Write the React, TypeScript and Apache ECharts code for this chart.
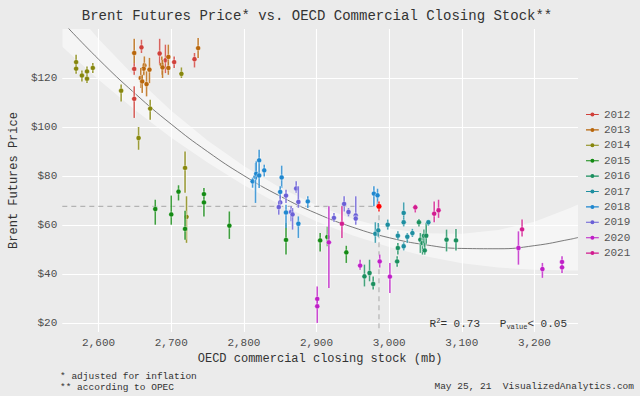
import React, { useEffect, useRef } from "react";
import * as echarts from "echarts";

// ---------- data ----------
const years = ["2012", "2013", "2014", "2015", "2016", "2017", "2018", "2019", "2020", "2021"];
const yearColors = ["#d0403a", "#b8660b", "#86860c", "#138a13", "#1a8f5e", "#1e8ea0", "#1f87cf", "#6a5fd6", "#bf1fc7", "#d21b8f"];

// [stock (mb), price ($), low, high]
const pts2012 = [
  [2649, 123.7, 121.3, 126.1], [2649, 111.5, 103.7, 116.6], [2659, 132.5, 130.2, 135.6],
  [2684, 130.0, 125.4, 136.0], [2692, 127.2, 122.0, 133.6], [2704, 126.5, 124.1, 128.8],
  [2732, 127.7, 124.3, 130.2],
];
const pts2013 = [
  [2649, 130.2, 126.1, 136.0], [2663, 125.1, 121.3, 128.8], [2662, 123.8, 121.0, 126.0],
  [2658, 120.0, 115.9, 124.1], [2660, 118.6, 113.9, 121.3], [2666, 117.5, 112.5, 122.7],
  [2670, 123.4, 117.9, 128.2], [2687, 125.4, 121.3, 128.8], [2688, 124.3, 120.0, 127.4],
  [2696, 128.6, 122.7, 133.6], [2696, 124.1, 121.3, 126.8], [2737, 132.2, 128.2, 136.3],
];
const pts2014 = [
  [2569, 126.5, 124.1, 129.5], [2569, 123.8, 121.7, 125.0], [2577, 121.0, 118.6, 123.1],
  [2584, 122.7, 121.3, 124.7], [2584, 119.7, 118.0, 121.3], [2592, 124.1, 122.0, 126.1],
  [2631, 114.8, 110.4, 117.3], [2671, 107.5, 103.0, 111.1], [2655, 95.5, 90.7, 100.0],
  [2714, 121.7, 120.0, 124.3], [2719, 83.3, 73.1, 90.0], [2721, 63.3, 52.7, 71.7],
];
const pts2015 = [
  [2678, 66.5, 60.1, 70.3], [2700, 64.3, 60.1, 72.0], [2710, 73.6, 70.0, 76.2],
  [2719, 58.4, 54.0, 65.8], [2745, 72.6, 71.0, 75.1], [2745, 69.2, 63.5, 71.0],
  [2780, 59.7, 54.3, 65.5], [2858, 53.9, 47.9, 60.8], [2905, 53.7, 49.2, 56.7],
  [2915, 55.1, 51.3, 59.3], [2941, 48.8, 44.5, 51.5],
];
const pts2016 = [
  [2966, 39.0, 34.9, 43.8], [2973, 40.4, 37.0, 45.8], [2978, 35.9, 33.6, 39.0],
  [3011, 45.1, 42.9, 47.2], [3012, 50.6, 47.9, 52.6], [3041, 61.1, 59.4, 62.4],
  [3043, 54.0, 48.6, 56.7], [3046, 52.6, 47.9, 55.3], [3048, 55.6, 51.3, 58.1],
  [3051, 55.6, 52.0, 60.8], [3049, 49.6, 47.9, 52.6], [3079, 54.0, 49.2, 58.1],
  [3092, 53.7, 49.6, 58.4],
];
const pts2017 = [
  [2981, 56.4, 52.7, 61.1], [2985, 57.8, 55.2, 60.8], [2998, 60.1, 58.1, 62.2],
  [3012, 55.6, 54.0, 57.4], [3020, 64.9, 62.9, 69.2], [3020, 61.1, 59.4, 62.9],
  [3020, 51.3, 49.6, 52.9], [3025, 55.2, 52.7, 56.7], [3032, 56.7, 55.1, 58.4],
  [3054, 61.1, 59.7, 61.9],
];
const pts2018 = [
  [2979, 72.8, 67.6, 75.8], [2984, 72.1, 68.3, 74.8], [2812, 77.8, 75.2, 79.3],
  [2816, 79.6, 69.0, 85.3], [2817, 80.9, 78.5, 86.0], [2821, 86.4, 81.2, 90.7],
  [2821, 80.2, 75.1, 81.2], [2828, 82.3, 79.8, 84.6], [2852, 79.4, 75.1, 84.2],
  [2850, 73.5, 71.0, 75.8], [2858, 65.1, 58.8, 68.3], [2875, 60.5, 54.7, 63.5],
  [2888, 69.6, 66.9, 71.7],
];
const pts2019 = [
  [2850, 69.2, 66.6, 72.0], [2848, 67.3, 64.2, 69.6], [2858, 72.0, 69.0, 74.4],
  [2872, 74.9, 73.1, 77.8], [2875, 69.4, 67.0, 75.8], [2865, 65.3, 61.5, 67.6],
  [2867, 64.3, 58.1, 66.9], [2924, 62.9, 61.3, 64.9], [2938, 68.6, 65.5, 71.7],
  [2944, 65.3, 63.5, 66.9], [2954, 63.9, 62.2, 71.7], [2954, 62.6, 60.1, 63.9],
];
const pts2020 = [
  [2901, 29.8, 27.0, 34.9], [2901, 26.8, 20.0, 29.0], [2917, 52.9, 34.3, 67.6],
  [2960, 43.4, 41.7, 45.8], [2987, 45.1, 42.6, 47.9], [3001, 38.9, 32.2, 44.5],
  [3178, 50.6, 43.8, 57.4], [3211, 42.0, 38.4, 44.5], [3238, 44.9, 43.8, 47.2],
  [3238, 42.7, 40.4, 43.8],
];
const pts2021 = [
  [2935, 60.5, 54.7, 67.6], [3036, 67.2, 65.1, 68.3], [3062, 64.6, 61.1, 69.6],
  [3068, 66.0, 62.9, 70.3], [3183, 58.2, 55.3, 62.2],
];
const pointsByYear = [pts2012, pts2013, pts2014, pts2015, pts2016, pts2017, pts2018, pts2019, pts2020, pts2021];

// latest observation (highlighted)
const latestPoint = [2986, 67.6, 65.5, 69.6];

// quadratic fit and its confidence band
const fitStock = [2550, 2600, 2650, 2700, 2750, 2800, 2850, 2900, 2950, 3000, 3050, 3100, 3150, 3200, 3250, 3260];
const fitPrice = [142.96, 127.63, 113.69, 101.13, 89.95, 80.15, 71.74, 64.71, 59.06, 54.79, 51.91, 50.41, 50.29, 51.55, 54.2, 54.89];
const fitHalfWidth = [10.2, 8.3, 6.8, 5.5, 4.5, 3.9, 3.5, 3.3, 3.4, 3.8, 4.7, 6.0, 7.7, 9.8, 12.8, 13.5];

const rSquared = "0.73";
const pValue = "0.05";

const xMin = 2550;
const xMax = 3260;
const yMin = 16.3;
const yMax = 140;

const FONT = "Liberation Mono";

export default function App() {
  const ref = useRef<HTMLDivElement>(null);

  useEffect(() => {
    if (!ref.current) return;
    const chart = echarts.init(ref.current, null, { renderer: "svg" });

    const makeRender = (color: string, r: number) => (params: any, api: any) => {
      const s = api.value(0);
      const p = api.value(1);
      const lo = api.value(2);
      const hi = api.value(3);
      const top = api.coord([s, hi]);
      const bot = api.coord([s, lo]);
      const c = api.coord([s, p]);
      return {
        type: "group",
        children: [
          { type: "line", shape: { x1: top[0], y1: top[1], x2: bot[0], y2: bot[1] }, style: { stroke: "#ffffff", lineWidth: 3.4, opacity: 0.5 } },
          { type: "line", shape: { x1: top[0], y1: top[1], x2: bot[0], y2: bot[1] }, style: { stroke: color, lineWidth: 1.6, opacity: 0.8 } },
          { type: "circle", shape: { cx: c[0], cy: c[1], r }, style: { fill: color, stroke: "rgba(255,255,255,0.6)", lineWidth: 0.6 } },
        ],
      };
    };

    const bandData = fitStock.map((s, i) => [s, fitPrice[i] - fitHalfWidth[i], fitPrice[i] + fitHalfWidth[i]]);

    const legendIcon = "path://M0,2.3H16V3.7H0Z M5.5,3A2.5,2.5 0 1 1 10.5,3A2.5,2.5 0 1 1 5.5,3Z";

    const yearSeries = years.map((y, i) => ({
      type: "custom",
      name: y,
      itemStyle: { color: yearColors[i] },
      data: pointsByYear[i],
      encode: { x: 0, y: [1, 2, 3] },
      renderItem: makeRender(yearColors[i], 2.5),
      z: 5,
      clip: true,
    }));

    const option: any = {
      animation: false,
      backgroundColor: "#ebebeb",
      textStyle: { fontFamily: FONT },
      grid: { left: 60, right: 62, top: 29, bottom: 64, backgroundColor: "#ebebeb", show: true, borderWidth: 0 },
      xAxis: {
        type: "value",
        min: xMin,
        max: xMax,
        minInterval: 100,
        maxInterval: 100,
        axisLine: { show: false },
        axisTick: { show: false },
        splitLine: { show: true, showMinLine: false, showMaxLine: false, lineStyle: { color: "#ffffff", width: 1.1 } },
        axisLabel: {
          showMinLabel: false,
          showMaxLabel: false,
          color: "#4d4d4d",
          fontFamily: FONT,
          fontSize: 11,
          margin: 5,
          formatter: (v: number) => v.toLocaleString("en-US"),
        },
        name: "OECD commercial closing stock (mb)",
        nameLocation: "middle",
        nameGap: 19,
        nameTextStyle: { color: "#333333", fontFamily: FONT, fontSize: 12 },
      },
      yAxis: {
        type: "value",
        min: yMin,
        max: yMax,
        minInterval: 20,
        maxInterval: 20,
        axisLine: { show: false },
        axisTick: { show: false },
        splitLine: { show: true, showMinLine: false, showMaxLine: false, lineStyle: { color: "#ffffff", width: 1.1 } },
        axisLabel: {
          showMinLabel: false,
          showMaxLabel: false,
          color: "#4d4d4d",
          fontFamily: FONT,
          fontSize: 11,
          margin: 5,
          formatter: (v: number) => "$" + v,
        },
        name: "Brent Futures Price",
        nameLocation: "middle",
        nameGap: 40,
        nameTextStyle: { color: "#333333", fontFamily: FONT, fontSize: 12 },
      },
      legend: {
        orient: "vertical",
        left: 581,
        top: 104,
        itemWidth: 13,
        itemHeight: 4,
        itemGap: 4.4,
        padding: 5,
        data: years.map((y) => ({ name: y, icon: legendIcon })),
        itemStyle: { borderWidth: 0 },
        textStyle: { color: "#555555", fontFamily: FONT, fontSize: 11, lineHeight: 11 },
      },
      series: [
        {
          type: "custom",
          name: "band",
          data: bandData,
          encode: { x: 0, y: [1, 2] },
          z: 1,
          silent: true,
          renderItem: (params: any, api: any) => {
            if (params.dataIndex !== 0) return null;
            const upper = bandData.map((d) => api.coord([d[0], d[2]]));
            const lower = bandData.map((d) => api.coord([d[0], d[1]])).reverse();
            const cs = params.coordSys;
            return {
              type: "group",
              clipPath: { type: "rect", shape: { x: cs.x, y: cs.y, width: cs.width, height: cs.height } },
              children: [
                { type: "polygon", shape: { points: upper.concat(lower) }, style: { fill: "#ffffff", opacity: 0.5 } },
              ],
            };
          },
        },
        {
          type: "line",
          name: "fit",
          data: fitStock.map((s, i) => [s, fitPrice[i]]),
          smooth: true,
          symbol: "none",
          lineStyle: { color: "#5a5a5a", width: 0.8 },
          z: 2,
          silent: true,
        },
        {
          type: "line",
          name: "refH",
          data: [[xMin, latestPoint[1]], [latestPoint[0], latestPoint[1]]],
          symbol: "none",
          lineStyle: { color: "#b3b3b3", width: 1.2, type: [5, 4] },
          z: 3,
          silent: true,
        },
        {
          type: "line",
          name: "refV",
          data: [[latestPoint[0], latestPoint[1]], [latestPoint[0], yMin]],
          symbol: "none",
          lineStyle: { color: "#b3b3b3", width: 1.2, type: [5, 4] },
          z: 3,
          silent: true,
        },
        ...yearSeries,
        {
          type: "custom",
          name: "latest",
          data: [latestPoint],
          encode: { x: 0, y: [1, 2, 3] },
          renderItem: makeRender("#ff0000", 2.8),
          z: 6,
        },
      ],
      graphic: [
        {
          type: "text",
          x: 317,
          y: 16,
          style: {
            text: "Brent Futures Price* vs. OECD Commercial Closing Stock**",
            fontFamily: FONT,
            fontSize: 14,
            fill: "#333333",
            align: "center",
            verticalAlign: "middle",
          },
        },
        {
          type: "text",
          x: 567,
          y: 324,
          z: 10,
          style: {
            text: "{r|R}{sup|2}{r|= 0.73   P}{sub|value}{r|< 0.05}".replace("0.73", rSquared).replace("0.05", pValue),
            align: "right",
            verticalAlign: "middle",
            fill: "#333333",
            rich: {
              r: { fontFamily: FONT, fontSize: 11, fill: "#333333" },
              sup: { fontFamily: FONT, fontSize: 7, fill: "#333333", padding: [0, 0, 7, 0] },
              sub: { fontFamily: FONT, fontSize: 7, fill: "#333333", padding: [6, 0, 0, 0] },
            },
          },
        },
        {
          type: "text",
          x: 60,
          y: 376,
          style: { text: "* adjusted for inflation", fontFamily: FONT, fontSize: 9.5, fill: "#333333", verticalAlign: "middle" },
        },
        {
          type: "text",
          x: 60,
          y: 387,
          style: { text: "** according to OPEC", fontFamily: FONT, fontSize: 9.5, fill: "#333333", verticalAlign: "middle" },
        },
        {
          type: "text",
          x: 634,
          y: 386,
          style: {
            text: "May 25, 21  VisualizedAnalytics.com",
            fontFamily: FONT,
            fontSize: 9.5,
            fill: "#333333",
            align: "right",
            verticalAlign: "middle",
          },
        },
      ],
    };

    chart.setOption(option);
    return () => chart.dispose();
  }, []);

  return <div ref={ref} style={{ position: "fixed", left: 0, top: 0, width: 640, height: 396 }} />;
}
